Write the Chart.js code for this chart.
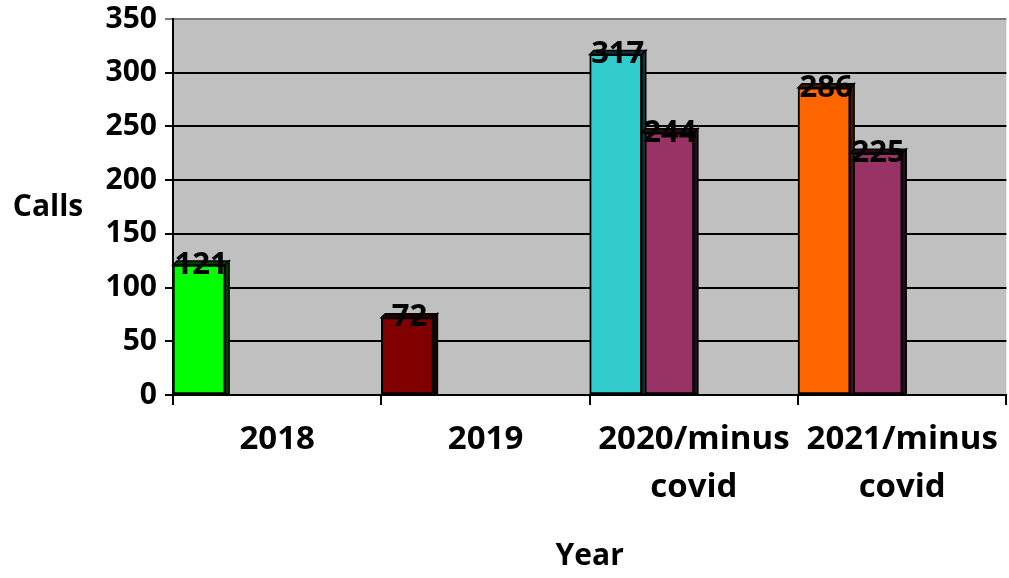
<!DOCTYPE html>
<html>
<head>
<meta charset="utf-8">
<title>Calls per year</title>
<script src="https://cdn.jsdelivr.net/npm/chart.js@4.4.1/dist/chart.umd.min.js"></script>
<style>
  html, body { margin: 0; padding: 0; background: #ffffff; }
  #wrap { width: 1009px; height: 578px; }
</style>
</head>
<body>
<div id="wrap"><canvas id="chart" width="1009" height="578"></canvas></div>
<script>
// Categories and values
const categories = [['2018'], ['2019'], ['2020/minus', 'covid'], ['2021/minus', 'covid']];
const totalCalls = [121, 72, 317, 286];
const minusCovidCalls = [null, null, 244, 225];
const totalColors = ['#00FF00', '#800000', '#33CCCC', '#FF6600'];
const minusCovidColor = '#993366';
const yTicks = [0, 50, 100, 150, 200, 250, 300, 350];
const emptySlot = [null, null, null, null];

const FONT = '"Open Sans", Lato, sans-serif';

function shade(hex, f) {
  const n = parseInt(hex.slice(1), 16);
  const r = Math.round(((n >> 16) & 255) * f);
  const g = Math.round(((n >> 8) & 255) * f);
  const b = Math.round((n & 255) * f);
  return `rgb(${r},${g},${b})`;
}

// Grey plot background
const plotBackground = {
  id: 'plotBackground',
  beforeDraw(chart) {
    const { ctx, chartArea: a } = chart;
    ctx.save();
    ctx.fillStyle = '#C0C0C0';
    ctx.fillRect(a.left, a.top, a.right - a.left, a.bottom - a.top);
    ctx.restore();
  }
};

// Depth strip on top/right of each column, plus its value label
const columnDepth = {
  id: 'columnDepth',
  afterDatasetsDraw(chart) {
    const { ctx } = chart;
    const d = 4;
    ctx.save();
    chart.data.datasets.forEach((ds, di) => {
      const meta = chart.getDatasetMeta(di);
      meta.data.forEach((bar, i) => {
        const v = ds.data[i];
        if (v === null || v === undefined) return;
        const col = Array.isArray(ds.backgroundColor) ? ds.backgroundColor[i] : ds.backgroundColor;
        const l = bar.x - bar.width / 2, r = bar.x + bar.width / 2;
        const t = bar.y, b = bar.base;
        ctx.fillStyle = shade(col, 0.25);
        ctx.strokeStyle = '#000';
        ctx.lineWidth = 1.5;
        ctx.beginPath();
        ctx.moveTo(r, b);
        ctx.lineTo(r, t);
        ctx.lineTo(r + d, t - d);
        ctx.lineTo(r + d, b);
        ctx.closePath();
        ctx.fill();
        ctx.stroke();
        ctx.beginPath();
        ctx.moveTo(l, t);
        ctx.lineTo(l + d, t - d);
        ctx.lineTo(r + d, t - d);
        ctx.lineTo(r, t);
        ctx.closePath();
        ctx.fill();
        ctx.stroke();
      });
    });
    ctx.fillStyle = '#000';
    ctx.font = `bold 31px ${FONT}`;
    ctx.textAlign = 'center';
    ctx.textBaseline = 'middle';
    chart.data.datasets.forEach((ds, di) => {
      const meta = chart.getDatasetMeta(di);
      meta.data.forEach((bar, i) => {
        const v = ds.data[i];
        if (v === null || v === undefined) return;
        ctx.fillText(String(v), bar.x + 2, bar.y);
      });
    });
    ctx.restore();
  }
};

// Horizontal "Calls" axis caption
const sideCaption = {
  id: 'sideCaption',
  afterDraw(chart) {
    const { ctx, chartArea: a } = chart;
    ctx.save();
    ctx.fillStyle = '#000';
    ctx.font = `bold 30px ${FONT}`;
    ctx.textAlign = 'center';
    ctx.textBaseline = 'middle';
    ctx.fillText('Calls', 48, (a.top + a.bottom) / 2);
    ctx.restore();
  }
};

const barBase = {
  borderColor: '#000000',
  borderWidth: 2,
  borderSkipped: false,
  categoryPercentage: 1.0,
  barPercentage: 1.0
};

new Chart(document.getElementById('chart'), {
  type: 'bar',
  data: {
    labels: categories,
    datasets: [
      { ...barBase, label: 'Calls', data: totalCalls, backgroundColor: totalColors },
      { ...barBase, label: 'Calls minus covid', data: minusCovidCalls, backgroundColor: minusCovidColor },
      { ...barBase, label: '', data: emptySlot, backgroundColor: '#000000' },
      { ...barBase, label: '', data: emptySlot, backgroundColor: '#000000' }
    ]
  },
  plugins: [plotBackground, columnDepth, sideCaption],
  options: {
    responsive: false,
    animation: false,
    layout: { padding: { top: 19, right: 1, left: 0, bottom: 0 } },
    plugins: {
      legend: { display: false },
      tooltip: { enabled: false }
    },
    scales: {
      x: {
        offset: true,
        afterFit(scale) { scale.height = 183; },
        grid: {
          offset: true,
          drawOnChartArea: false,
          drawTicks: true,
          tickLength: 10,
          color: '#000000',
          lineWidth: 2
        },
        border: { display: true, color: '#000000', width: 2 },
        ticks: {
          color: '#000000',
          padding: 11,
          maxRotation: 0,
          autoSkip: false,
          font: { family: FONT, weight: 'bold', size: 33, lineHeight: 1.45 }
        },
        title: {
          display: true,
          text: 'Year',
          color: '#000000',
          padding: { top: 0, bottom: 4 },
          font: { family: FONT, weight: 'bold', size: 30, lineHeight: 1.2 }
        }
      },
      y: {
        min: 0,
        max: 350,
        afterFit(scale) { scale.width = 173; },
        afterBuildTicks(scale) { scale.ticks = yTicks.map(v => ({ value: v })); },
        grid: {
          drawTicks: true,
          tickLength: 8,
          lineWidth: 2,
          color: ctx => (ctx.tick && ctx.tick.value === 350 ? '#7a7a7a' : '#000000')
        },
        border: { display: true, color: '#000000', width: 2 },
        ticks: {
          color: '#000000',
          padding: 8,
          font: { family: FONT, weight: 'bold', size: 30, lineHeight: 0.5 }
        }
      }
    }
  }
});
</script>
</body>
</html>
